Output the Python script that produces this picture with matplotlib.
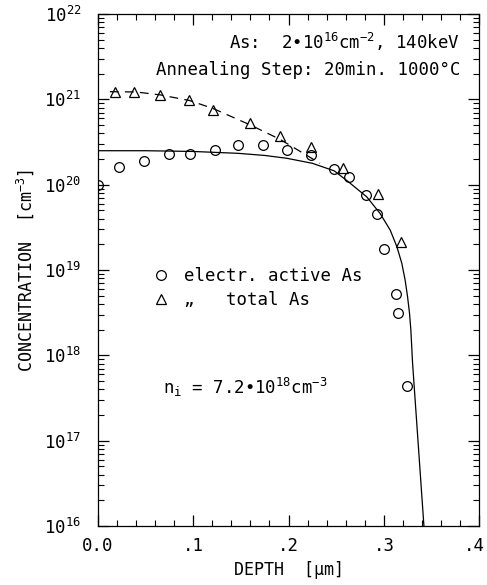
import matplotlib
matplotlib.use('Agg')
import matplotlib.pyplot as plt
import matplotlib.ticker as mticker
import matplotlib.transforms as mtransforms
import numpy as np

plt.rcParams['font.family'] = ['DejaVu Sans Mono', 'DejaVu Sans']
plt.rcParams['mathtext.default'] = 'regular'

# electrically active As (circles)
active_depth = [0.0, 0.022, 0.048, 0.0745, 0.097, 0.123, 0.147, 0.173, 0.198, 0.224,
                0.248, 0.263, 0.281, 0.293, 0.300, 0.313, 0.315, 0.324]
active_conc = [1.0e20, 1.62e20, 1.88e20, 2.3e20, 2.3e20, 2.57e20, 2.89e20, 2.9e20, 2.57e20, 2.2e20,
               1.53e20, 1.24e20, 7.5e19, 4.5e19, 1.75e19, 5.3e18, 3.1e18, 4.4e17]

# total As (triangles)
total_depth = [0.018, 0.038, 0.065, 0.096, 0.121, 0.160, 0.191, 0.224, 0.257, 0.294, 0.318]
total_conc = [1.23e21, 1.23e21, 1.13e21, 9.7e20, 7.6e20, 5.3e20, 3.75e20, 2.73e20, 1.55e20, 7.7e19, 2.1e19]

# simulated curves
sim_active_x = [0.0, 0.05, 0.10, 0.147, 0.175, 0.198, 0.225, 0.248, 0.2628, 0.282,
                0.296, 0.3066, 0.3136, 0.3188, 0.3223, 0.3248, 0.3269, 0.3283, 0.3301, 0.342]
sim_active_y = [2.5e20, 2.5e20, 2.45e20, 2.33e20, 2.2e20, 2.04e20, 1.78e20, 1.45e20, 1.08e20, 7.2e19,
                4.6e19, 2.94e19, 1.88e19, 1.2e19, 7.6e18, 4.9e18, 3.1e18, 1.98e18, 8.1e17, 1.0e16]
sim_total_x = [0.0126, 0.04, 0.065, 0.096, 0.121, 0.16, 0.191, 0.233]
sim_total_y = [1.23e21, 1.22e21, 1.13e21, 9.7e20, 7.8e20, 5.0e20, 3.4e20, 1.78e20]

xticks = [0.0, 0.1, 0.2, 0.3, 0.4]
xticklabels = ['0.0', '.1', '.2', '.3', '.4']
yticks = [1e16, 1e17, 1e18, 1e19, 1e20, 1e21, 1e22]
yticklabels = ['$10^{%d}$' % e for e in range(16, 23)]

fig = plt.figure(figsize=(4.87, 5.85), dpi=100)
ax = fig.add_axes([0.201, 0.101, 0.783, 0.875])

ax.plot(sim_active_x, sim_active_y, 'k-', lw=0.9)
ax.plot(sim_total_x, sim_total_y, color='k', lw=0.9, ls=(0, (7, 5)))
h1, = ax.plot(active_depth, active_conc, 'o', mfc='none', mec='k', ms=7, mew=0.9)
h2, = ax.plot(total_depth, total_conc, '^', mfc='none', mec='k', ms=7, mew=0.9)

ax.set_yscale('log')
ax.set_xlim(0, 0.4)
ax.set_ylim(1e16, 1e22)
ax.set_xticks(xticks)
ax.set_xticklabels(xticklabels)
ax.xaxis.set_minor_locator(mticker.MultipleLocator(0.02))
ax.set_yticks(yticks)
ax.set_yticklabels(yticklabels)
ax.yaxis.set_minor_locator(mticker.LogLocator(base=10, subs=np.arange(2, 10), numticks=100))
ax.yaxis.set_minor_formatter(mticker.NullFormatter())
ax.tick_params(which='both', direction='in', top=True, right=True, labelsize=12.5)
ax.tick_params(which='major', length=8, width=0.9)
ax.tick_params(which='minor', length=4, width=0.8)
ax.tick_params(axis='x', pad=8)
ax.tick_params(axis='y', pad=12)
for s in ax.spines.values():
    s.set_linewidth(0.9)

# keep the last x label inside the figure
last = ax.get_xticklabels()[-1]
last.set_transform(last.get_transform() + mtransforms.ScaledTranslation(-5 / 100, 0, fig.dpi_scale_trans))

ax.set_xlabel('DEPTH  [\u03bcm]', fontsize=12)
ax.set_ylabel('CONCENTRATION  [cm$^{-3}$]', fontsize=12, labelpad=6)

ax.text(0.95, 0.945, 'As:  2\u202210$^{16}$cm$^{-2}$, 140keV', transform=ax.transAxes,
        ha='right', va='center', fontsize=12.5)
ax.text(0.95, 0.89, 'Annealing Step: 20min. 1000\u00b0C', transform=ax.transAxes,
        ha='right', va='center', fontsize=12.5)
ax.text(0.17, 0.27, 'n$_i$ = 7.2\u202210$^{18}$cm$^{-3}$', transform=ax.transAxes,
        ha='left', va='center', fontsize=12.5)

ax.legend([h1, h2], ['electr. active As', '\u201e   total As'], loc='center left',
          bbox_to_anchor=(0.12, 0.465), frameon=False, fontsize=12.5,
          handlelength=1.0, handletextpad=0.8, labelspacing=0.35, borderpad=0)

fig.savefig('out.png', dpi=100)
